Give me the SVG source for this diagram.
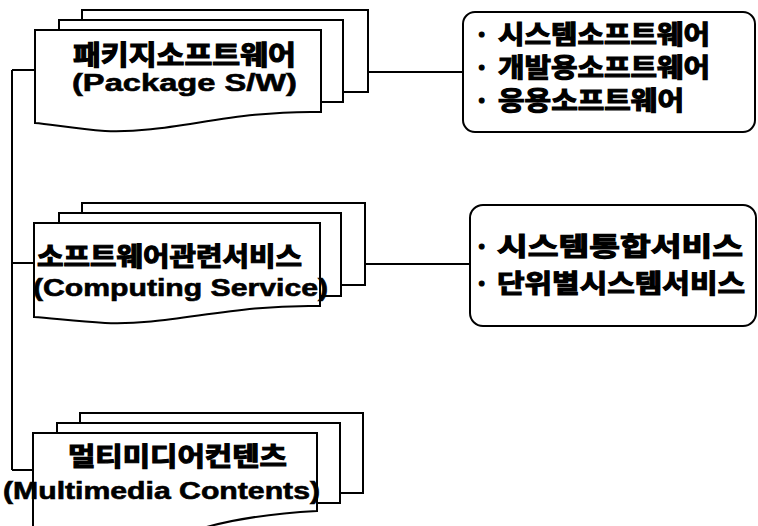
<svg xmlns="http://www.w3.org/2000/svg" width="758" height="526" viewBox="0 0 758 526">
<style>
.sh{fill:#fff;stroke:#000;stroke-width:2;stroke-linejoin:miter}
.bx{fill:#fff;stroke:#000;stroke-width:2}
.cn{fill:none;stroke:#000;stroke-width:2}
.ko{font-family:"Noto Sans CJK KR","Noto Sans",sans-serif;font-weight:bold;fill:#000;stroke:#000;stroke-width:1.2}
.en{font-family:"Liberation Sans",Arial,sans-serif;font-weight:bold;fill:#000;stroke:#000;stroke-width:0.6}
</style>
<rect width="758" height="526" fill="#fff"/>
<g id="connectors">
<path class="cn" d="M12,70 V470 M12,70 H35 M12,263 H34 M12,470 H33 M367,72 H463 M365,264 H470"/>
</g>
<g id="node-package">
<rect class="sh" x="82" y="10" width="286" height="82"/>
<rect class="sh" x="59" y="20" width="284" height="82"/>
<path class="sh" d="M35,30 H321 V112 C230,110 170,134 105,131 C75,129 50,124 35,123 Z"/>
<text class="ko" x="73" y="65" font-size="27" textLength="223" lengthAdjust="spacingAndGlyphs">패키지소프트웨어</text>
<text class="en" x="72" y="91" font-size="24" textLength="225" lengthAdjust="spacingAndGlyphs">(Package S/W)</text>
</g>
<g id="node-service">
<rect class="sh" x="82" y="203" width="283" height="82"/>
<rect class="sh" x="59" y="213" width="282" height="83"/>
<path class="sh" d="M34,223 H320 V306 C230,304 170,326 105,323 C75,321 50,318 34,317 Z"/>
<text class="ko" x="37" y="266" font-size="26" textLength="265" lengthAdjust="spacingAndGlyphs">소프트웨어관련서비스</text>
<text class="en" x="33" y="296" font-size="23" textLength="295" lengthAdjust="spacingAndGlyphs">(Computing Service)</text>
</g>
<g id="node-multimedia">
<rect class="sh" x="80" y="413" width="283" height="80"/>
<rect class="sh" x="57" y="423" width="283" height="80"/>
<path class="sh" d="M33,433 H317 V511 C260,514 220,522 190,532 H33 Z"/>
<text class="ko" x="68" y="466" font-size="26" textLength="219" lengthAdjust="spacingAndGlyphs">멀티미디어컨텐츠</text>
<text class="en" x="3" y="499" font-size="23" textLength="317" lengthAdjust="spacingAndGlyphs">(Multimedia Contents)</text>
</g>
<g id="box-package">
<rect class="bx" x="463" y="12" width="292" height="120" rx="12"/>
<text class="ko" font-size="26"><tspan x="474" y="44">·</tspan><tspan x="498" y="44" textLength="212" lengthAdjust="spacingAndGlyphs">시스템소프트웨어</tspan></text>
<text class="ko" font-size="26"><tspan x="474" y="77">·</tspan><tspan x="498" y="77" textLength="212" lengthAdjust="spacingAndGlyphs">개발용소프트웨어</tspan></text>
<text class="ko" font-size="26"><tspan x="474" y="110">·</tspan><tspan x="498" y="110" textLength="186" lengthAdjust="spacingAndGlyphs">응용소프트웨어</tspan></text>
</g>
<g id="box-service">
<rect class="bx" x="470" y="205" width="286" height="121" rx="13"/>
<text class="ko" font-size="26"><tspan x="474" y="256">·</tspan><tspan x="497" y="256" textLength="246" lengthAdjust="spacingAndGlyphs">시스템통합서비스</tspan></text>
<text class="ko" font-size="26"><tspan x="474" y="293">·</tspan><tspan x="497" y="293" textLength="248" lengthAdjust="spacingAndGlyphs">단위별시스템서비스</tspan></text>
</g>
</svg>
